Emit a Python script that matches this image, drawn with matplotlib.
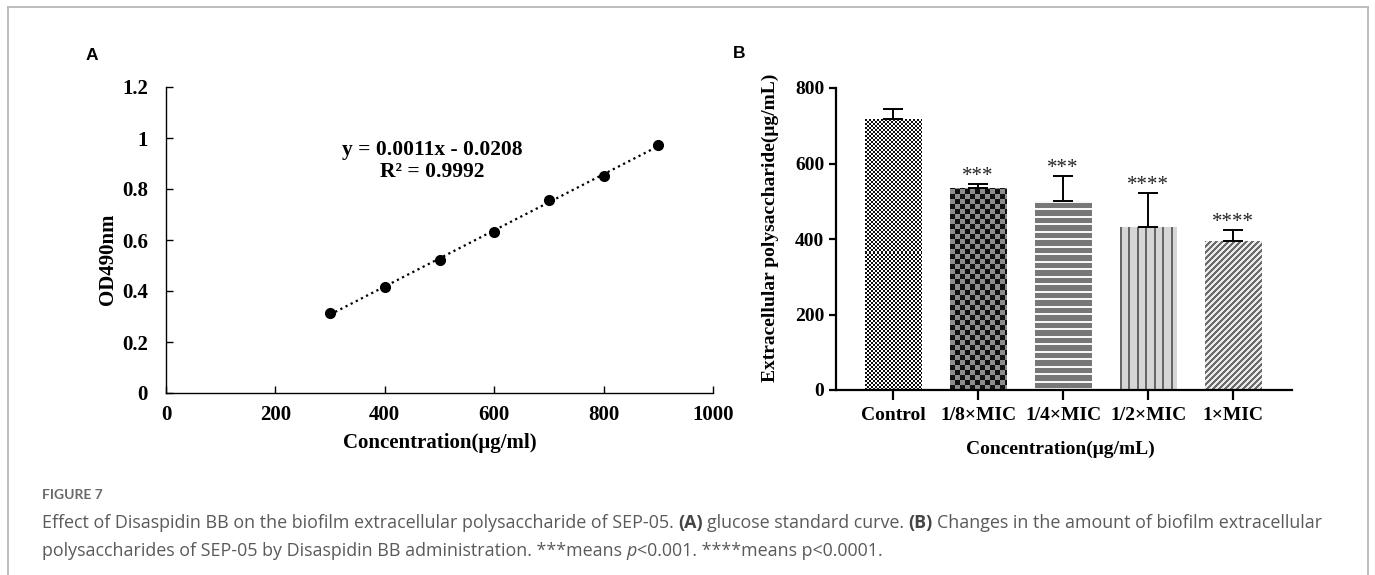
import numpy as np
import matplotlib
matplotlib.use('Agg')
import matplotlib.pyplot as plt

# ---------------- data ----------------
# Panel A: glucose standard curve
conc = [300, 400, 500, 600, 700, 800, 900]
od490 = [0.313, 0.417, 0.522, 0.632, 0.757, 0.852, 0.972]
a_xticks = [0, 200, 400, 600, 800, 1000]
a_yticks = [0, 0.2, 0.4, 0.6, 0.8, 1.0, 1.2]
a_yticklabels = ['0', '0.2', '0.4', '0.6', '0.8', '1', '1.2']
equation_text = 'y = 0.0011x - 0.0208\nR² = 0.9992'

# Panel B: extracellular polysaccharide
groups = ['Control', '1/8×MIC', '1/4×MIC', '1/2×MIC', '1×MIC']
eps_mean = [718, 536, 500, 431, 394]
eps_err = [26, 9, 67, 92, 29]
signif = ['', '***', '***', '****', '****']
b_yticks = [0, 200, 400, 600, 800]
patterns = ['fine', 'coarse', 'hlines', 'vlines', 'diag']

# ---------------- setup ----------------
W, H = 1375, 575
plt.rcParams['font.family'] = 'Liberation Serif'
plt.rcParams['font.weight'] = 'bold'
fig = plt.figure(figsize=(W / 100, H / 100), dpi=100)


def fx(x):
    return x / W


def fy(y):
    return 1 - y / H


# frame around the figure (open at bottom)
frame_kw = dict(color='#b8b8b8', lw=1.3, transform=fig.transFigure)
fig.add_artist(plt.Line2D([fx(7.5), fx(7.5)], [fy(7), 0], **frame_kw))
fig.add_artist(plt.Line2D([fx(7.5), fx(1368)], [fy(7), fy(7)], **frame_kw))
fig.add_artist(plt.Line2D([fx(1368), fx(1368)], [fy(7), 0], **frame_kw))

# ---------------- Panel A ----------------
axA = fig.add_axes([fx(166), fy(393), fx(713) - fx(166), fy(87) - fy(393)])
axA.set_xlim(0, 1000)
axA.set_ylim(0, 1.2)
for s in ['top', 'right']:
    axA.spines[s].set_visible(False)
for s in ['left', 'bottom']:
    axA.spines[s].set_linewidth(1.0)
axA.set_xticks(a_xticks)
axA.set_yticks(a_yticks)
axA.set_yticklabels(a_yticklabels)
axA.tick_params(axis='both', direction='in', length=5, width=1.0, labelsize=15)
axA.tick_params(axis='x', pad=9)
axA.tick_params(axis='y', pad=13)

coef = np.polyfit(conc, od490, 1)
xfit = np.array([conc[0], conc[-1]])
axA.plot(xfit, np.polyval(coef, xfit), linestyle=(0, (1, 1.6)), color='black', lw=1.6, zorder=2)
axA.plot(conc, od490, 'o', color='black', ms=7, zorder=3)
axA.text(486, 0.91, equation_text, ha='center', va='center', fontsize=15.5, linespacing=1.15)

fig.text(fx(108), fy(259), 'OD490nm', rotation=90, ha='center', va='center', fontsize=15)
fig.text(fx(440), fy(443), 'Concentration(μg/ml)', ha='center', va='center', fontsize=15)
fig.text(fx(92), fy(55), 'A', family='Liberation Sans', fontweight='bold', fontsize=12.5,
         ha='center', va='center')

# ---------------- Panel B ----------------
axB = fig.add_axes([fx(836), fy(390), fx(1292) - fx(836), fy(88) - fy(390)])
xpos = np.arange(len(groups))
bw = 0.67
axB.set_xlim(-0.67, 4.69)
axB.set_ylim(0, 800)
for s in ['top', 'right']:
    axB.spines[s].set_visible(False)
for s in ['left', 'bottom']:
    axB.spines[s].set_linewidth(1.6)
axB.set_xticks(xpos)
axB.set_xticklabels(groups)
axB.set_yticks(b_yticks)
axB.tick_params(axis='both', direction='out', width=1.6, labelsize=14)
axB.tick_params(axis='x', length=7, pad=5)
axB.tick_params(axis='y', length=5, pad=3.5)

bars = axB.bar(xpos, eps_mean, width=bw, color='none', edgecolor='none', zorder=2)


def make_texture(kind, nx, ny):
    i, j = np.mgrid[0:ny, 0:nx]
    img = np.ones((ny, nx, 3))
    if kind == 'fine':
        m = ((i // 2 + j // 2) % 2 == 0)
        img[m] = 0.05
        img[~m] = 1.0
    elif kind == 'coarse':
        m = ((i // 5 + j // 5) % 2 == 0)
        img[m] = 0.07
        img[~m] = 0.56
    elif kind == 'hlines':
        img[:] = 0.47
        img[((i + 0.5) % 7.5) < 2.0] = 0.97
    elif kind == 'vlines':
        img[:] = 0.84
        img[((j + 0.5) % 8.5) < 1.6] = 0.40
    elif kind == 'diag':
        img[:] = 0.92
        img[((j - i) % 6) < 3] = 0.42
    return img


for bar, kind in zip(bars, patterns):
    x0, y0 = bar.get_x(), bar.get_y()
    x1, y1 = x0 + bar.get_width(), y0 + bar.get_height()
    p0 = axB.transData.transform((x0, y0))
    p1 = axB.transData.transform((x1, y1))
    nx = max(1, int(round(p1[0] - p0[0])))
    ny = max(1, int(round(p1[1] - p0[1])))
    im = axB.imshow(make_texture(kind, nx, ny), extent=[x0, x1, y0, y1], origin='lower',
                    interpolation='nearest', aspect='auto', zorder=2)
    im.set_clip_path(bar)

axB.set_xlim(-0.67, 4.69)
axB.set_ylim(0, 800)

axB.errorbar(xpos, eps_mean, yerr=[np.zeros(len(eps_err)), eps_err], fmt='none',
             ecolor='black', elinewidth=1.4, capsize=7, capthick=1.4, zorder=3)

for x, m, e, s in zip(xpos, eps_mean, eps_err, signif):
    if s:
        axB.text(x, m + e + 20, s, ha='center', va='center', fontsize=15,
                 fontweight='normal', color='#222222')

fig.text(fx(770), fy(228), 'Extracellular polysaccharide(μg/mL)', rotation=90,
         ha='center', va='center', fontsize=14)
fig.text(fx(1060), fy(449), 'Concentration(μg/mL)', ha='center', va='center', fontsize=14)
fig.text(fx(739), fy(53), 'B', family='Liberation Sans', fontweight='bold', fontsize=12.5,
         ha='center', va='center')

# ---------------- Caption ----------------
CAP = 'Open Sans'
CAPCOL = '#5a5a5a'
fig.text(fx(42), fy(495), 'FIGURE 7', family='Lato', fontweight='bold', fontsize=10,
         color='#6a6a6a', ha='left', va='center')


def chain(x, y, segments, size=12.9):
    prev = None
    for text, style, gap in segments:
        kw = dict(family=CAP, fontsize=size,
                  color='#444444' if style == 'b' else CAPCOL,
                  fontweight='bold' if style == 'b' else 'normal',
                  fontstyle='italic' if style == 'i' else 'normal')
        if prev is None:
            prev = fig.text(fx(x), fy(y), text, ha='left', va='center', **kw)
        else:
            prev = axA.annotate(text, xy=(1, 0.5), xycoords=prev, xytext=(gap, 0),
                                textcoords='offset points', ha='left', va='center',
                                annotation_clip=False, **kw)


gap = 3.1
chain(42, 523, [
    ('Effect of Disaspidin BB on the biofilm extracellular polysaccharide of SEP-05.', 'n', 0),
    ('(A)', 'b', gap),
    ('glucose standard curve.', 'n', gap),
    ('(B)', 'b', gap),
    ('Changes in the amount of biofilm extracellular', 'n', gap),
])
chain(42, 551, [
    ('polysaccharides of SEP-05 by Disaspidin BB administration. ***means', 'n', 0),
    ('p', 'i', gap),
    ('<0.001. ****means p<0.0001.', 'n', 0.3),
])

fig.savefig('out.png', dpi=100)
